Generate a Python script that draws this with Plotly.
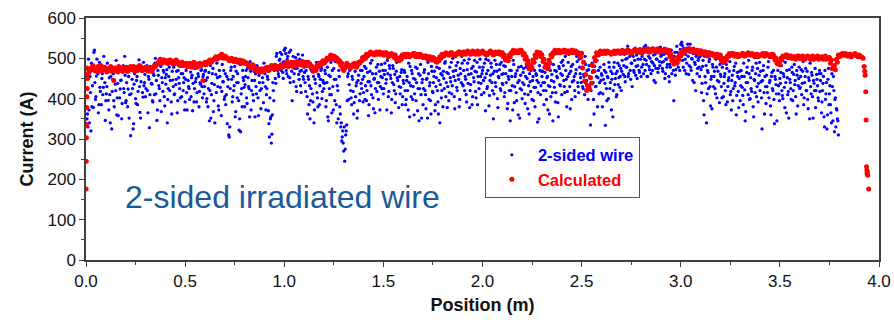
import numpy as np
import plotly.graph_objects as go

# ---- measured data: 2-sided wire (A) ----
# set A: sampled every 0.005 m starting at 0.005 m
wire_step = 0.005
wire_current_a = [
    350, 330, 372, 455, 320, 380, 470, 515, 440, 405, 498, 462, 385, 428, 475, 450, 410, 505, 440, 395,
    430, 465, 372, 410, 455, 325, 448, 395, 470, 420, 360, 438, 480, 402, 445, 350, 466, 425, 505, 390,
    440, 380, 455, 410, 308, 470, 425, 338, 462, 400, 445, 385, 478, 430, 352, 468, 415, 490, 440, 405,
    470, 420, 455, 328, 480, 438, 395, 462, 410, 500, 445, 372, 458, 425, 485, 368, 440, 470, 405, 452,
    460, 340, 425, 478, 445, 392, 468, 430, 410, 485, 448, 365, 470, 438, 402, 462, 480, 420, 452, 392,
    470, 372, 445, 425, 488, 405, 458, 438, 392, 475, 450, 415, 462, 380, 440, 470, 430, 455, 412, 468,
    445, 400, 380, 465, 420, 352, 438, 475, 395, 340, 460, 488, 430, 372, 455, 500, 418, 442, 470, 405,
    385, 455, 430, 310, 330, 470, 448, 405, 420, 480, 368, 440, 462, 395, 350, 318, 425, 470, 445, 380,
    455, 402, 475, 430, 355, 468, 420, 485, 395, 445, 462, 412, 478, 358, 440, 470, 425, 452, 390, 465,
    430, 410, 455, 370, 305, 350, 290, 360, 420, 470, 450, 505, 480, 462, 495, 515, 470, 488, 450, 520,
    525, 470, 498, 455, 515, 440, 480, 395, 505, 462, 490, 430, 475, 510, 448, 468, 415, 495, 455, 478,
    440, 470, 405, 455, 385, 350, 425, 468, 392, 340, 448, 478, 415, 380, 455, 432, 470, 400, 445, 425,
    470, 380, 440, 355, 458, 410, 490, 365, 430, 475, 395, 448, 340, 420, 470, 380, 330, 295, 320, 270,
    245, 310, 335, 455, 398, 470, 420, 385, 448, 362, 478, 405, 440, 370, 458, 395, 470, 425, 448, 415,
    480, 432, 395, 465, 358, 442, 488, 410, 462, 375, 450, 425, 478, 440, 398, 468, 430, 485, 452, 412,
    460, 470, 448, 495, 405, 482, 458, 365, 440, 475, 420, 390, 468, 452, 500, 430, 412, 465, 385, 445,
    470, 420, 398, 455, 372, 440, 480, 405, 462, 430, 360, 448, 395, 475, 425, 345, 458, 410, 440, 385,
    465, 420, 375, 450, 490, 398, 440, 362, 468, 415, 455, 370, 430, 478, 392, 445, 340, 462, 420, 380,
    450, 488, 405, 465, 430, 395, 478, 442, 412, 500, 455, 375, 470, 428, 490, 448, 398, 462, 505, 435,
    470, 420, 448, 392, 488, 460, 378, 435, 475, 405, 452, 495, 418, 466, 385, 440, 478, 455, 410, 470,
    445, 488, 370, 462, 430, 495, 408, 458, 478, 420, 350, 468, 440, 485, 400, 455, 472, 425, 490, 438,
    462, 405, 480, 440, 375, 455, 420, 345, 470, 432, 495, 390, 455, 415, 470, 360, 445, 425, 480, 400,
    465, 435, 388, 478, 450, 410, 362, 442, 470, 398, 455, 428, 380, 462, 445, 415, 350, 470, 432, 455,
    440, 385, 465, 420, 452, 372, 478, 430, 405, 460, 345, 442, 470, 415, 455, 390, 480, 435, 462, 410,
    495, 445, 415, 470, 380, 455, 510, 430, 468, 398, 485, 445, 420, 462, 505, 440, 415, 478, 452, 515,
    430, 460, 410, 485, 445, 420, 472, 455, 335, 440, 465, 398, 480, 430, 455, 380, 470, 440, 415, 462,
    380, 448, 470, 334, 425, 455, 400, 478, 440, 372, 462, 420, 490, 450, 405, 468, 435, 482, 455, 420,
    495, 460, 510, 442, 478, 500, 455, 520, 470, 488, 430, 505, 465, 525, 480, 450, 498, 470, 515, 455,
    505, 485, 528, 470, 495, 455, 515, 480, 500, 462, 525, 488, 445, 510, 475, 498, 465, 520, 482, 505,
    490, 468, 510, 450, 498, 478, 520, 455, 485, 505, 462, 495, 395, 515, 472, 530, 488, 505, 470, 535,
    540, 495, 525, 470, 510, 488, 535, 460, 515, 478, 500, 445, 525, 490, 420, 510, 475, 500, 455, 520,
    415, 480, 395, 505, 440, 340, 470, 425, 498, 382, 455, 485, 430, 468, 412, 478, 445, 500, 390, 460,
    430, 478, 405, 455, 420, 485, 392, 445, 468, 410, 372, 458, 425, 480, 440, 360, 465, 418, 450, 395,
    470, 428, 385, 455, 345, 440, 478, 410, 462, 400, 425, 470, 380, 448, 415, 488, 430, 392, 458, 420,
    442, 325, 470, 415, 455, 388, 430, 478, 402, 445, 360, 465, 420, 398, 455, 435, 345, 470, 412, 450,
    465, 420, 400, 455, 378, 440, 470, 410, 352, 448, 425, 478, 395, 460, 435, 405, 470, 382, 450, 425,
    455, 410, 468, 385, 440, 475, 420, 398, 452, 350, 430, 465, 405, 445, 420, 378, 460, 432, 395, 470,
    445, 365, 420, 455, 330, 398, 440, 360, 475, 412, 385, 340, 430, 455, 318, 402, 375, 350, 310,
]
# set B: sampled every 0.005 m starting at 0.0025 m
wire_current_b = [
    455, 362, 498, 340, 415, 488, 432, 378, 520, 398, 456, 472, 365, 490, 418, 385, 462, 428, 478, 346,
    412, 488, 396, 452, 340, 475, 418, 462, 380, 436, 495, 402, 358, 470, 424, 446, 388, 482, 415, 458,
    395, 466, 424, 352, 480, 412, 448, 325, 436, 472, 388, 455, 418, 496, 366, 442, 478, 404, 432, 460,
    425, 482, 365, 448, 410, 472, 436, 392, 458, 488, 412, 346, 470, 432, 395, 480, 452, 418, 466, 382,
    436, 472, 398, 455, 420, 488, 362, 446, 478, 412, 435, 468, 395, 452, 425, 480, 405, 462, 440, 372,
    448, 415, 482, 430, 398, 466, 452, 370, 478, 425, 442, 392, 488, 455, 418, 436, 472, 402, 460, 430,
    470, 392, 452, 425, 345, 482, 410, 462, 368, 435, 498, 415, 452, 382, 470, 428, 358, 485, 442, 398,
    462, 410, 338, 448, 305, 425, 478, 392, 455, 432, 355, 468, 402, 440, 322, 485, 412, 380, 452, 428,
    435, 470, 388, 452, 425, 492, 372, 445, 410, 468, 355, 430, 482, 402, 458, 420, 375, 465, 440, 488,
    462, 372, 425, 448, 338, 402, 355, 312, 440, 395, 485, 438, 512, 470, 455, 498, 478, 510, 465, 492,
    488, 512, 462, 505, 478, 452, 520, 468, 490, 442, 475, 502, 418, 485, 460, 498, 432, 470, 508, 448,
    465, 418, 480, 362, 448, 432, 395, 470, 412, 455, 372, 438, 490, 402, 460, 385, 448, 475, 418, 440,
    438, 462, 395, 478, 345, 425, 455, 410, 470, 372, 448, 492, 385, 432, 350, 455, 362, 340, 305, 290,
    330, 275, 320, 395, 462, 435, 482, 402, 455, 418, 390, 468, 432, 352, 445, 488, 412, 438, 470, 392,
    455, 398, 475, 420, 442, 385, 468, 432, 495, 402, 448, 365, 462, 418, 485, 440, 372, 455, 425, 470,
    425, 488, 438, 372, 462, 418, 475, 450, 398, 482, 435, 460, 412, 490, 445, 378, 455, 428, 472, 405,
    438, 465, 385, 445, 420, 488, 355, 432, 470, 398, 450, 412, 478, 440, 370, 462, 425, 485, 352, 448,
    425, 472, 410, 448, 352, 462, 432, 395, 480, 418, 440, 468, 385, 452, 420, 362, 475, 435, 402, 458,
    468, 425, 492, 440, 378, 462, 415, 452, 490, 432, 468, 405, 445, 482, 420, 458, 380, 475, 440, 488,
    432, 495, 455, 410, 472, 438, 498, 420, 462, 385, 480, 442, 468, 402, 490, 455, 425, 498, 438, 462,
    478, 415, 452, 498, 425, 470, 382, 445, 488, 440, 462, 412, 495, 430, 468, 378, 452, 485, 420, 460,
    435, 482, 415, 462, 498, 388, 448, 470, 420, 455, 372, 485, 430, 462, 395, 440, 478, 352, 458, 422,
    440, 475, 412, 455, 498, 375, 432, 462, 418, 485, 445, 395, 470, 428, 458, 342, 440, 482, 410, 468,
    468, 420, 440, 488, 398, 455, 432, 362, 470, 445, 415, 485, 428, 392, 468, 452, 355, 475, 432, 490,
    458, 482, 430, 505, 448, 418, 490, 462, 375, 480, 442, 512, 455, 405, 472, 492, 430, 498, 462, 440,
    478, 425, 455, 505, 438, 470, 398, 482, 452, 420, 488, 440, 362, 468, 430, 495, 452, 412, 478, 445,
    458, 412, 485, 438, 465, 395, 452, 490, 425, 468, 448, 355, 478, 435, 462, 410, 488, 452, 428, 475,
    468, 512, 482, 455, 498, 478, 530, 462, 505, 448, 488, 515, 470, 495, 458, 508, 482, 522, 465, 498,
    478, 512, 462, 498, 532, 485, 455, 505, 472, 518, 492, 470, 508, 482, 440, 498, 515, 475, 492, 528,
    508, 475, 492, 525, 462, 498, 485, 512, 442, 478, 520, 495, 470, 505, 458, 488, 515, 478, 498, 522,
    505, 532, 478, 515, 498, 462, 525, 505, 482, 535, 470, 498, 512, 440, 485, 505, 462, 495, 478, 505,
    472, 438, 495, 360, 455, 482, 412, 465, 492, 430, 448, 375, 478, 455, 425, 498, 402, 468, 442, 485,
    455, 402, 488, 438, 462, 385, 475, 430, 452, 492, 418, 445, 395, 470, 432, 488, 408, 455, 378, 468,
    432, 455, 408, 488, 422, 368, 465, 440, 495, 398, 452, 418, 478, 355, 445, 462, 405, 475, 438, 490,
    468, 402, 445, 482, 362, 430, 458, 415, 492, 440, 382, 455, 425, 470, 338, 448, 412, 485, 432, 395,
    438, 482, 408, 462, 428, 490, 365, 452, 418, 472, 440, 398, 465, 420, 485, 445, 362, 458, 432, 478,
    428, 472, 438, 492, 402, 455, 420, 468, 375, 445, 488, 412, 458, 352, 438, 475, 420, 448, 402, 462,
    418, 462, 392, 438, 355, 470, 412, 325, 448, 385, 432, 365, 462, 345, 420, 398, 330, 372, 345,
]

# ---- calculated current (A) ----
# set A: every 0.01 m from 0.01 m; set B: every 0.01 m from 0.005 m
calc_step = 0.01
calc_current_a = [
    462, 470, 478, 472, 468, 480, 475, 470, 478, 473,
    470, 476, 468, 445, 472, 466, 474, 470, 478, 472,
    468, 476, 472, 480, 474, 470, 482, 476, 472, 478,
    470, 474, 468, 476, 480, 488, 494, 490, 496, 492,
    488, 495, 490, 486, 494, 490, 484, 488, 482, 486,
    480, 486, 482, 488, 484, 478, 486, 482, 445, 490,
    488, 494, 490, 496, 500, 498, 504, 508, 502, 506,
    500, 496, 498, 494, 496, 492, 494, 490, 494, 488,
    486, 482, 478, 484, 476, 472, 468, 472, 466, 470,
    474, 470, 478, 476, 480, 478, 474, 482, 478, 484,
    486, 480, 488, 484, 490, 482, 488, 486, 492, 488,
    484, 490, 486, 480, 472, 470, 478, 484, 490, 488,
    494, 498, 504, 500, 506, 502, 498, 494, 488, 470,
    480, 484, 478, 482, 486, 480, 484, 488, 494, 498,
    500, 506, 512, 514, 510, 514, 510, 516, 512, 508,
    514, 510, 508, 512, 506, 508, 500, 494, 498, 504,
    506, 510, 504, 508, 512, 506, 510, 504, 508, 502,
    506, 500, 504, 498, 502, 496, 490, 494, 500, 506,
    510, 512, 508, 514, 510, 506, 512, 516, 510, 514,
    512, 516, 514, 510, 518, 512, 516, 510, 514, 518,
    512, 508, 514, 518, 512, 510, 514, 516, 510, 514,
    508, 500, 494, 504, 512, 516, 518, 514, 520, 516,
    512, 504, 494, 480, 476, 490, 502, 512, 514, 508,
    498, 484, 474, 488, 504, 512, 516, 518, 514, 518,
    520, 516, 518, 514, 520, 516, 518, 514, 510, 512,
    490, 460, 432, 424, 438, 468, 494, 508, 512, 514,
    516, 512, 518, 514, 510, 516, 512, 518, 514, 516,
    518, 514, 520, 516, 512, 518, 522, 516, 520, 514,
    520, 518, 522, 516, 520, 524, 518, 522, 516, 520,
    518, 522, 516, 520, 510, 500, 492, 488, 496, 506,
    512, 516, 520, 524, 518, 522, 516, 520, 514, 518,
    512, 516, 510, 514, 508, 512, 506, 510, 504, 508,
    500, 490, 496, 504, 508, 512, 506, 510, 504, 508,
    512, 506, 510, 514, 508, 512, 506, 510, 504, 508,
    510, 506, 512, 508, 504, 510, 506, 500, 492, 484,
    496, 504, 508, 502, 506, 500, 504, 498, 506, 500,
    504, 498, 502, 506, 500, 504, 498, 502, 506, 500,
    504, 498, 506, 500, 502, 496, 480, 472, 490, 504,
    510, 508, 512, 506, 510, 504, 508, 512, 506, 508,
    504, 500,
]
calc_current_b = [
    476, 466, 474, 482, 470, 476, 468, 482, 472, 478,
    466, 474, 480, 470, 476, 468, 480, 474, 468, 476,
    478, 470, 480, 474, 468, 478, 472, 480, 470, 474,
    478, 468, 476, 472, 482, 484, 490, 498, 488, 496,
    494, 488, 496, 492, 488, 496, 490, 482, 490, 484,
    488, 480, 488, 478, 490, 484, 480, 488, 484, 486,
    484, 490, 496, 492, 498, 504, 500, 506, 510, 500,
    504, 500, 494, 500, 492, 498, 490, 496, 488, 492,
    490, 486, 480, 476, 482, 470, 474, 466, 474, 468,
    476, 478, 472, 482, 474, 482, 480, 476, 484, 480,
    482, 490, 484, 490, 480, 486, 492, 484, 490, 482,
    490, 482, 484, 476, 468, 474, 482, 488, 484, 494,
    490, 500, 498, 508, 498, 504, 500, 490, 482, 474,
    476, 488, 482, 476, 484, 488, 478, 490, 492, 502,
    504, 510, 508, 516, 512, 508, 516, 512, 510, 514,
    508, 514, 504, 510, 510, 502, 498, 496, 502, 508,
    510, 504, 510, 506, 508, 512, 504, 508, 510, 506,
    502, 506, 498, 504, 496, 500, 492, 498, 504, 510,
    506, 514, 510, 508, 514, 510, 508, 512, 516, 510,
    516, 510, 518, 514, 512, 516, 510, 518, 512, 514,
    516, 512, 510, 514, 516, 508, 516, 512, 516, 510,
    504, 496, 498, 508, 514, 520, 514, 518, 516, 520,
    508, 498, 486, 474, 484, 496, 508, 516, 510, 504,
    492, 478, 480, 496, 508, 514, 520, 514, 520, 516,
    516, 520, 514, 518, 514, 520, 516, 512, 514, 502,
    476, 444, 420, 430, 452, 482, 502, 514, 508, 518,
    512, 518, 514, 516, 514, 512, 518, 514, 518, 512,
    520, 516, 514, 520, 516, 514, 520, 518, 516, 522,
    516, 522, 518, 524, 516, 520, 522, 518, 524, 516,
    520, 518, 522, 514, 504, 494, 486, 492, 502, 510,
    518, 514, 522, 520, 524, 518, 520, 514, 520, 512,
    518, 510, 516, 506, 514, 510, 508, 504, 510, 502,
    494, 492, 500, 506, 512, 508, 512, 506, 510, 506,
    508, 512, 506, 510, 512, 508, 510, 504, 510, 506,
    508, 512, 506, 510, 508, 504, 510, 496, 488, 490,
    500, 506, 504, 508, 502, 506, 500, 504, 502, 506,
    500, 506, 498, 504, 502, 498, 506, 500, 504, 498,
    502, 500, 504, 498, 500, 488, 474, 482, 498, 508,
    506, 512, 508, 510, 506, 510, 506, 510, 508, 504,
    506, 502,
]

# start-up ramp and end drop of the calculated curve
calc_start_pos = [0.000, 0.001, 0.002, 0.003, 0.004, 0.005, 0.006, 0.008]
calc_start_val = [176, 245, 303, 336, 378, 405, 425, 450]
calc_end_pos = [3.925, 3.928, 3.930, 3.933, 3.935, 3.937, 3.939, 3.940, 3.941, 3.943, 3.948]
calc_end_val = [480, 468, 458, 417, 347, 231, 222, 214, 218, 210, 176]

wire_pos = np.concatenate([wire_step * np.arange(1, len(wire_current_a) + 1),
                           wire_step * np.arange(len(wire_current_b)) + wire_step / 2])
wire_all = np.concatenate([wire_current_a, wire_current_b])

calc_pos = np.concatenate([calc_start_pos,
                           calc_step * np.arange(1, len(calc_current_a) + 1),
                           calc_step * np.arange(len(calc_current_b)) + calc_step / 2,
                           calc_end_pos])
calc_all = np.concatenate([calc_start_val, calc_current_a, calc_current_b, calc_end_val])

FONT = "Liberation Sans, Arial, sans-serif"

fig = go.Figure()
fig.add_trace(go.Scatter(
    x=wire_pos, y=wire_all, mode="markers",
    name="<b><span style='color:#0000ff'>2-sided wire</span></b>",
    marker=dict(color="#0000ff", size=3.3, line=dict(width=0)),
))
fig.add_trace(go.Scatter(
    x=calc_pos, y=calc_all, mode="markers",
    name="<b><span style='color:#ff0000'>Calculated</span></b>",
    marker=dict(color="#ff0000", size=5, line=dict(width=0)),
))

axis_common = dict(
    showline=True, linecolor="#404040", linewidth=1.5, mirror=True,
    ticks="outside", ticklen=5, tickwidth=1.2, tickcolor="#404040",
    showgrid=False, zeroline=False, automargin=False,
    tickfont=dict(family=FONT, size=17, color="#111111"),
)

fig.update_xaxes(
    range=[0, 4], dtick=0.5, tickformat=".1f",
    minor=dict(ticks="outside", ticklen=3, tickwidth=1.2, tickcolor="#404040", dtick=0.25),
    title=dict(text="<b>Position (m)</b>", font=dict(family=FONT, size=18, color="#111111"), standoff=8),
    **axis_common,
)
fig.update_yaxes(
    range=[0, 600], dtick=100,
    minor=dict(ticks="outside", ticklen=3, tickwidth=1.2, tickcolor="#404040", dtick=50),
    title=dict(text="<b>Current (A)</b>", font=dict(family=FONT, size=18, color="#111111"), standoff=9),
    **axis_common,
)

fig.add_annotation(
    x=0.248, y=0.262, xref="paper", yref="paper", showarrow=False,
    text="2-sided irradiated wire",
    font=dict(family=FONT, size=32, color="#1a5a98"),
    xanchor="center", yanchor="middle",
)

fig.update_layout(
    width=894, height=324,
    margin=dict(l=86, r=15, t=18, b=64, autoexpand=False),
    paper_bgcolor="white", plot_bgcolor="white",
    font=dict(family=FONT),
    legend=dict(
        x=0.503, y=0.51, xanchor="left", yanchor="top",
        bordercolor="#555555", borderwidth=1, bgcolor="white",
        font=dict(family=FONT, size=16.5),
        itemsizing="trace", itemwidth=42, tracegroupgap=0,
    ),
)

fig.write_html("out.html")
